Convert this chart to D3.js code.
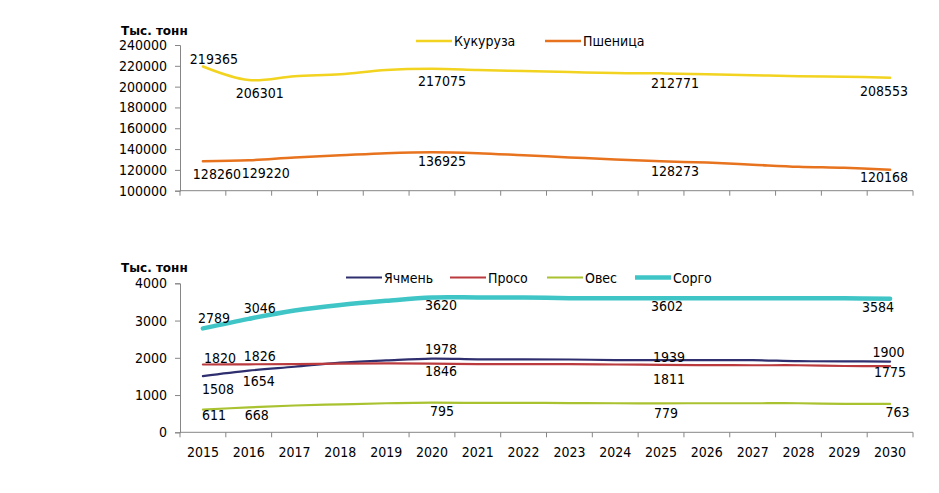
<!DOCTYPE html>
<html><head><meta charset="utf-8">
<script src="https://cdn.jsdelivr.net/npm/d3@7"></script>
<style>
body{margin:0;background:#fff;}
text{font-family:"DejaVu Sans Condensed","DejaVu Sans",sans-serif;}
</style></head>
<body><svg id="c" width="939" height="493"></svg>
<script>
const years = [2015,2016,2017,2018,2019,2020,2021,2022,2023,2024,2025,2026,2027,2028,2029,2030];
const unitLabel = "Тыс. тонн";
// top chart
const corn  = [219365,206301,210000,212000,216000,217075,216000,215000,214000,213000,212771,212000,211000,210000,209500,208553];
const wheat = [128260,129220,132000,134000,136000,136925,136000,134000,132000,130000,128273,127000,125000,123000,122000,120168];
const topTicks = [100000,120000,140000,160000,180000,200000,220000,240000];
// bottom chart
const barley  = [1508,1654,1760,1870,1930,1978,1960,1960,1955,1940,1939,1935,1935,1910,1905,1900];
const millet  = [1820,1826,1830,1845,1850,1846,1830,1830,1830,1820,1811,1805,1800,1800,1780,1775];
const oats    = [611,668,720,750,780,795,790,790,785,780,779,780,780,780,765,763];
const sorghum = [2789,3046,3270,3420,3530,3620,3620,3620,3600,3600,3602,3600,3600,3600,3600,3584];
const bottomTicks = [0,1000,2000,3000,4000];
const labelledYears = [2015,2016,2020,2025,2030];

const svg = d3.select("#c");
const x = d3.scaleBand().domain(years).range([180,913]);
const cx = d => x(d) + x.bandwidth()/2;
const axisColor = "#868686";

function panel(cfg){
  const y = d3.scaleLinear().domain(cfg.domain).range(cfg.range);
  const g = svg.append("g");
  const ya = g.append("g").attr("transform","translate(180,0)")
    .call(d3.axisLeft(y).tickValues(cfg.ticks).tickSize(5).tickPadding(8).tickFormat(d3.format("d")));
  ya.selectAll("path,line").attr("stroke",axisColor);
  ya.selectAll("text").attr("fill","#000").style("font-size","14px");
  const y0 = y(cfg.domain[0]);
  g.append("line").attr("x1",180).attr("x2",x.range()[1]).attr("y1",y0).attr("y2",y0).attr("stroke",axisColor);
  const bounds = years.map(d=>x(d)).concat([x.range()[1]]);
  g.selectAll(".xt").data(bounds).join("line").attr("x1",d=>d).attr("x2",d=>d)
    .attr("y1",y0).attr("y2",y0+5).attr("stroke",axisColor);
  if(cfg.xlabels){
    g.selectAll(".xl").data(years).join("text").attr("x",cx).attr("y",y0+20)
      .attr("text-anchor","middle").attr("dominant-baseline","central").style("font-size","14px").text(d=>d);
  }
  g.append("text").attr("x",121).attr("y",cfg.unitY).attr("dominant-baseline","central")
    .style("font-family","'DejaVu Sans',sans-serif")
    .style("font-size","12px").style("font-weight","bold").text(unitLabel);
  const line = d3.line().x((d,i)=>cx(years[i])).y(d=>y(d)).curve(d3.curveCatmullRom.alpha(0.5));
  cfg.series.forEach(s=>{
    g.append("path").datum(s.values).attr("d",line).attr("fill","none")
      .attr("stroke",s.color).attr("stroke-width",s.width).attr("stroke-linecap","round");
  });
  cfg.series.forEach(s=>{
    labelledYears.forEach((yr,k)=>{
      const i = years.indexOf(yr);
      const off = s.offsets[k];
      g.append("text").attr("x",cx(yr)+off[0]).attr("y",y(s.values[i])+off[1])
        .attr("text-anchor","middle").attr("dominant-baseline","central")
        .style("font-size","14px").attr("fill","#000").text(s.values[i]);
    });
  });
  cfg.series.forEach(s=>{
    g.append("line").attr("x1",s.lx).attr("x2",s.lx+36).attr("y1",cfg.legendY).attr("y2",cfg.legendY)
      .attr("stroke",s.color).attr("stroke-width",s.width);
    g.append("text").attr("x",s.lx+38).attr("y",cfg.legendY).attr("dominant-baseline","central")
      .style("font-size","14px").text(s.name);
  });
}

panel({
  domain:[100000,240000], range:[190.7,45], ticks:topTicks, xlabels:false, unitY:31, legendY:41,
  series:[
    {name:"Кукуруза", values:corn, color:"#F2D31F", width:2.5, lx:416,
     offsets:[[11,-7],[11,13],[10,12],[14,10],[-6,13]]},
    {name:"Пшеница", values:wheat, color:"#E8731E", width:2.5, lx:545,
     offsets:[[14,13],[17,13],[10,9],[14,10],[-6,7]]}
  ]
});

panel({
  domain:[0,4000], range:[432.3,283.3], ticks:bottomTicks, xlabels:true, unitY:268, legendY:277.5,
  series:[
    {name:"Ячмень", values:barley, color:"#2F2F6F", width:2.2, lx:346,
     offsets:[[15,13],[10,10],[9,-10],[8,-3],[-1.5,-10]]},
    {name:"Просо", values:millet, color:"#BA3A3E", width:2.2, lx:450,
     offsets:[[17,-7],[11,-8],[9,7.5],[8,14],[0,6]]},
    {name:"Овес", values:oats, color:"#A9C22F", width:2.2, lx:547,
     offsets:[[11,5.5],[8,7.5],[10,8],[5,10],[7.5,8]]},
    {name:"Сорго", values:sorghum, color:"#40C5C7", width:4.5, lx:635,
     offsets:[[11,-10],[11,-11],[9,7.5],[6,8],[-12,8]]}
  ]
});
</script></body></html>
